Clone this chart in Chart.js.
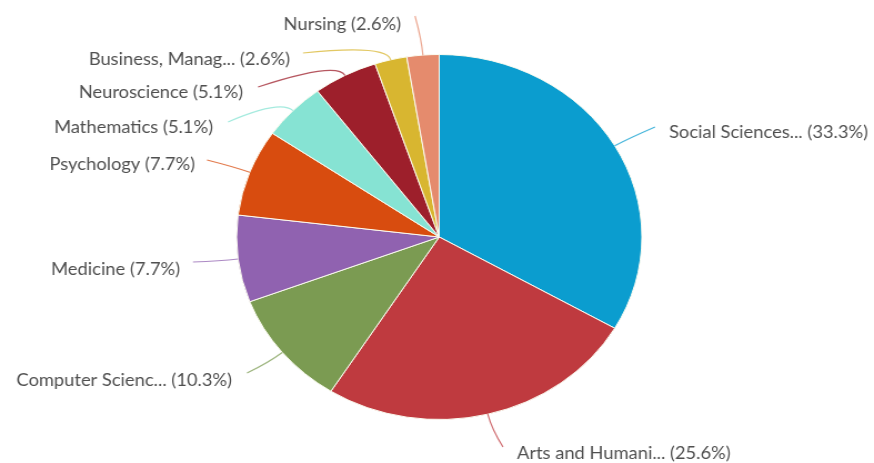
<!DOCTYPE html>
<html>
<head>
<meta charset="utf-8">
<script src="https://cdn.jsdelivr.net/npm/chart.js@4.4.0/dist/chart.umd.min.js"></script>
<style>
    html, body { margin: 0; padding: 0; background: #fff; overflow: hidden; }
</style>
</head>
<body>
<canvas id="chart" width="787" height="463" style="display:block;width:874px;height:463px"></canvas>
<script>
// the reference pie is stretched sideways, so the canvas is drawn narrow and scaled up by CSS
var STRETCH = 874 / 787;

var categories = ['Social Sciences...', 'Arts and Humani...', 'Computer Scienc...', 'Medicine',
    'Psychology', 'Mathematics', 'Neuroscience', 'Business, Manag...', 'Nursing'];
var counts = [13, 10, 4, 3, 3, 2, 2, 1, 1];

var sliceColors = ['#0b9dcf', '#bf3a3f', '#7b9b52', '#9062b0', '#d84c0f',
    '#86e3d3', '#9d1f2b', '#d8b630', '#e58b6d'];

// label layout in screen pixels: text x, text y, align, connector end x, connector end y
var labelLayout = [
    [669, 133, 'left', 655, 127],
    [517, 454, 'left', 503, 447],
    [232, 381, 'right', 247, 373],
    [180, 270, 'right', 193, 262],
    [195, 165, 'right', 207, 160],
    [213, 128, 'right', 228, 122],
    [243, 93, 'right', 258, 87],
    [290, 60, 'right', 303, 53],
    [401, 25, 'right', 415, 16]
];

var total = counts.reduce(function (a, b) { return a + b; }, 0);

var outsideLabels = {
    id: 'outsideLabels',
    afterDatasetsDraw: function (chart) {
        var ctx = chart.ctx;
        var arcs = chart.getDatasetMeta(0).data;
        ctx.save();
        ctx.font = '16.5px Lato, "Open Sans", sans-serif';
        ctx.textBaseline = 'middle';
        arcs.forEach(function (arc, i) {
            var p = arc.getProps(['x', 'y', 'startAngle', 'endAngle', 'outerRadius'], true);
            var mid = (p.startAngle + p.endAngle) / 2;
            var c = Math.cos(mid), s = Math.sin(mid);
            var x0 = p.x + c * p.outerRadius, y0 = p.y + s * p.outerRadius;
            var x1 = p.x + c * (p.outerRadius + 16), y1 = p.y + s * (p.outerRadius + 16);
            var L = labelLayout[i];

            ctx.strokeStyle = sliceColors[i];
            ctx.globalAlpha = 0.75;
            ctx.lineWidth = 1.2;
            ctx.beginPath();
            ctx.moveTo(L[3] / STRETCH, L[4]);
            ctx.quadraticCurveTo(x1, y1, x0, y0);
            ctx.stroke();

            ctx.globalAlpha = 1;
            ctx.fillStyle = '#4f4f4f';
            ctx.textAlign = L[2];
            var pct = (counts[i] / total * 100).toFixed(1);
            ctx.fillText(categories[i] + ' (' + pct + '%)', L[0] / STRETCH, L[1]);
        });
        ctx.restore();
    }
};

new Chart(document.getElementById('chart'), {
    type: 'pie',
    data: {
        labels: categories,
        datasets: [{
            data: counts,
            backgroundColor: sliceColors,
            borderColor: '#fbfbf0',
            borderWidth: 1
        }]
    },
    options: {
        responsive: false,
        animation: false,
        events: [],
        layout: { padding: { top: 54, bottom: 43, left: 4, right: 0 } },
        plugins: {
            legend: { display: false },
            tooltip: { enabled: false }
        }
    },
    plugins: [outsideLabels]
});
</script>
</body>
</html>
